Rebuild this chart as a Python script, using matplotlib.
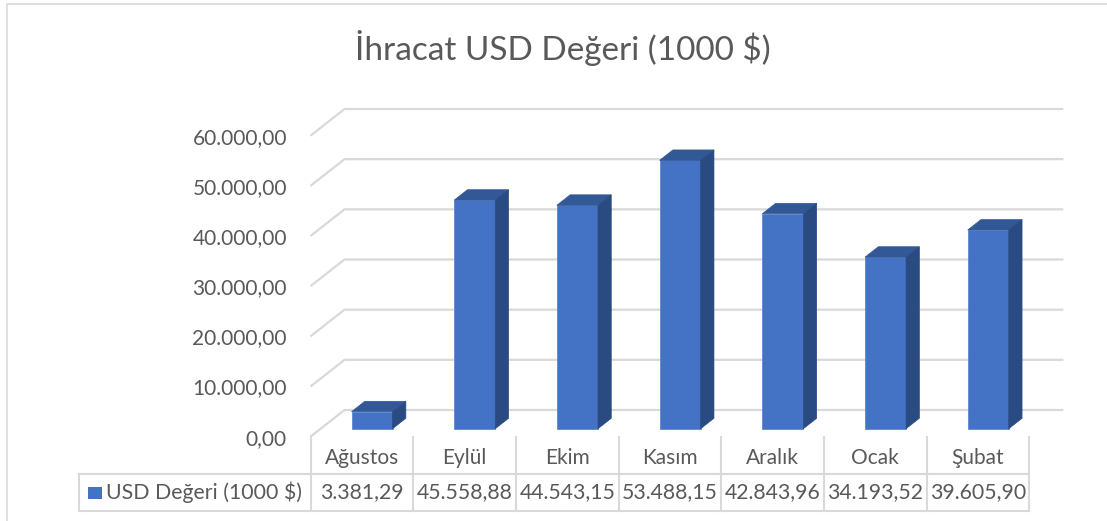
import numpy as np
import matplotlib
matplotlib.use('Agg')
import matplotlib.pyplot as plt
from matplotlib.patches import Polygon, Rectangle

plt.rcParams['font.family'] = ['Lato', 'DejaVu Sans']

months = ['Ağustos', 'Eylül', 'Ekim', 'Kasım', 'Aralık', 'Ocak', 'Şubat']
values = [3381.29, 45558.88, 44543.15, 53488.15, 42843.96, 34193.52, 39605.90]
series_name = 'USD Değeri (1000 $)'
title = 'İhracat USD Değeri (1000 $)'
yticks = [0, 10000, 20000, 30000, 40000, 50000, 60000]


def tr_fmt(v):
    s = f'{v:,.2f}'
    return s.replace(',', 'X').replace('.', ',').replace('X', '.')


W, H = 1107, 521
fig = plt.figure(figsize=(W / 100, H / 100), dpi=100)

# overlay in pixel coords for border / table
ov = fig.add_axes([0, 0, 1, 1])
ov.set_xlim(0, W)
ov.set_ylim(H, 0)
ov.axis('off')

grey = '#595959'
line_c = '#d9d9d9'

# chart border
ov.plot([7, 7, W + 5], [H + 5, 4, 4], color=line_c, lw=1.2)

# main axes = front plane
left, right, bot, top = 310.5, 1029.4, 436.7, 135.7
ax = fig.add_axes([left / W, (H - bot) / H, (right - left) / W, (bot - top) / H])
n = len(months)
ax.set_xlim(0, n)
ax.set_ylim(0, 60000)
for s in ax.spines.values():
    s.set_visible(False)
ax.set_facecolor('none')
ax.set_xticks([])
ax.set_yticks(yticks)
ax.set_yticklabels([tr_fmt(v) for v in yticks], fontsize=15, color=grey)
ax.tick_params(axis='y', length=0, pad=17)

# depth of the 3d box in data units
DX = 34 / ((right - left) / n)
DY = 26.7 / ((bot - top) / 60000)

for v in yticks:
    ax.plot([0, DX, n + DX], [v, v + DY, v + DY], color=line_c, lw=1.6,
            clip_on=False, zorder=1, solid_capstyle='butt')

f0, f1 = 0.30, 0.69
bw = 0.4
xs = np.arange(n) + 0.5 + f0 * DX
ax.bar(xs, values, width=bw, bottom=f0 * DY, color='#4472C4',
       edgecolor='#5f88d0', linewidth=0.6, zorder=3, clip_on=False)
for x, v in zip(xs, values):
    xl, xr = x - bw / 2, x + bw / 2
    ddx, ddy = (f1 - f0) * DX, (f1 - f0) * DY
    b = f0 * DY
    topf = Polygon([(xl, b + v), (xr, b + v), (xr + ddx, b + v + ddy), (xl + ddx, b + v + ddy)],
                   closed=True, facecolor='#335896', edgecolor='#335896', lw=0.5,
                   zorder=3, clip_on=False)
    side = Polygon([(xr, b), (xr + ddx, b + ddy), (xr + ddx, b + v + ddy), (xr, b + v)],
                   closed=True, facecolor='#2a4a82', edgecolor='#2a4a82', lw=0.5,
                   zorder=3, clip_on=False)
    ax.add_patch(topf)
    ax.add_patch(side)

# title
fig.text(563 / W, 1 - 48 / H, title, ha='center', va='center', fontsize=24, color=grey)

# data table
colw = (right - left) / n
row1_top, row2_top, row2_bot = bot, 473.7, 511
tab_left = 78.5
for i in range(n + 1):
    xb = left + i * colw
    ov.plot([xb, xb], [row1_top, row2_bot], color=line_c, lw=1.5)
ov.plot([tab_left, tab_left], [row2_top, row2_bot], color=line_c, lw=1.5)
ov.plot([tab_left, right], [row2_top, row2_top], color=line_c, lw=1.5)
ov.plot([tab_left, right], [row2_bot, row2_bot], color=line_c, lw=1.5)

for i, (m, v) in enumerate(zip(months, values)):
    cx = left + (i + 0.5) * colw
    ov.text(cx, 458, m, ha='center', va='center', fontsize=15, color=grey)
    ov.text(cx, 492.5, tr_fmt(v), ha='center', va='center', fontsize=15.3, color=grey)

ov.add_patch(Rectangle((88.3, 486.7), 13.4, 12, facecolor='#4472C4', edgecolor='none'))
ov.text(106.5, 492.5, series_name, ha='left', va='center', fontsize=15.3, color=grey)

fig.savefig('out.png', dpi=100)
